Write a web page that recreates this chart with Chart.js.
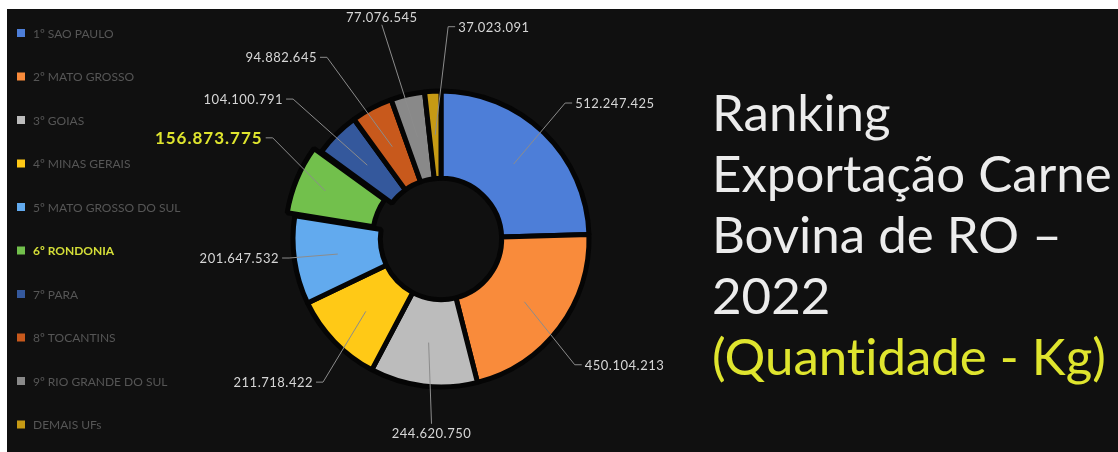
<!DOCTYPE html>
<html>
<head>
<meta charset="utf-8">
<script src="https://cdn.jsdelivr.net/npm/chart.js@4.4.0/dist/chart.umd.min.js"></script>
<style>
  html, body { margin:0; padding:0; background:#fff; }
  #wrap { position:relative; width:1118px; height:452px; overflow:hidden; }
  #panel { position:absolute; left:7px; top:9px; right:0; bottom:0; background:#101010; }
  #chart { position:absolute; left:0; top:0; }
  #title { position:absolute; left:712px; top:81px; font-family:Lato, sans-serif; font-size:51px;
           line-height:61px; color:#ececec; white-space:nowrap; font-variant-ligatures:none; }
  #title .unit { color:#dfe52e; }
</style>
</head>
<body>
<div id="wrap">
  <div id="panel"></div>
  <canvas id="chart" width="1118" height="452"></canvas>
  <div id="title">Ranking<br>Exportação Carne<br>Bovina de RO –<br>2022<br><span class="unit">(Quantidade - Kg)</span></div>
</div>
<script>
// ===== data =====
const states = ['1º SAO PAULO','2º MATO GROSSO','3º GOIAS','4º MINAS GERAIS','5º MATO GROSSO DO SUL',
                '6º RONDONIA','7º PARA','8º TOCANTINS','9º RIO GRANDE DO SUL','DEMAIS UFs'];
const kg = [512247425, 450104213, 244620750, 211718422, 201647532,
            156873775, 104100791, 94882645, 77076545, 37023091];
const sliceColors = ['#4d7ed8','#f98b3b','#bcbcbc','#ffc916','#62aaee',
                     '#72c04c','#34589c','#c8591c','#898989','#c69a14'];
const highlight = 5; // Rondonia

// label placement (angle shift from slice middle in deg, distance from centre, side)
const lblShift = [0.5, 4.2, -4.0, -4.3, 1.6, 7.0, -3.5, -6.5, -1.9, 7.8];
const lblDist  = [191, 191, 194, 192, 163, 205, 211, 220, 230, 213];
const lblSide  = ['left','left','below','right','right','right','right','right','above','left'];

const fmt = v => String(v).replace(/\B(?=(\d{3})+(?!\d))/g, '.');

const labelsPlugin = {
  id: 'leaderLabels',
  afterDatasetsDraw(chart) {
    const ctx = chart.ctx;
    const meta = chart.getDatasetMeta(0);
    const offs = chart.data.datasets[0].offset;
    ctx.save();
    meta.data.forEach((arc, i) => {
      const p = arc.getProps(['x','y','startAngle','endAngle','innerRadius','outerRadius']);
      const mid = (p.startAngle + p.endAngle) / 2;
      const rs = (p.innerRadius + p.outerRadius) / 2 + (offs[i] || 0);
      const sx = p.x + Math.cos(mid) * rs, sy = p.y + Math.sin(mid) * rs;
      const a = mid + lblShift[i] * Math.PI / 180;
      const tx = p.x + Math.cos(a) * lblDist[i], ty = p.y + Math.sin(a) * lblDist[i];
      const bold = i === highlight;
      ctx.font = bold ? 'bold 17px Lato' : '13px Lato';
      ctx.letterSpacing = bold ? '1px' : '0.5px';
      ctx.fillStyle = bold ? '#dfe52e' : '#d6d6d6';
      ctx.strokeStyle = '#8c8c8c';
      ctx.lineWidth = 1;
      ctx.textBaseline = 'middle';
      ctx.beginPath();
      ctx.moveTo(sx, sy);
      const side = lblSide[i];
      if (side === 'left') {
        ctx.lineTo(tx - 10, ty); ctx.lineTo(tx - 3, ty);
        ctx.textAlign = 'left';
      } else if (side === 'right') {
        ctx.lineTo(tx + 10, ty); ctx.lineTo(tx + 3, ty);
        ctx.textAlign = 'right';
      } else if (side === 'below') {
        ctx.lineTo(tx, ty - 9);
        ctx.textAlign = 'center';
      } else {
        ctx.lineTo(tx, ty + 8);
        ctx.textAlign = 'center';
      }
      ctx.stroke();
      ctx.fillText(fmt(kg[i]), tx, ty + 1);
    });
    ctx.restore();
  }
};

const legendPlugin = {
  id: 'sideLegend',
  afterDraw(chart) {
    const ctx = chart.ctx;
    ctx.save();
    ctx.filter = 'blur(0.6px)';
    ctx.textBaseline = 'middle';
    ctx.textAlign = 'left';
    states.forEach((s, i) => {
      const y = 33 + i * 43.5;
      ctx.fillStyle = sliceColors[i];
      ctx.fillRect(17, y - 4, 8, 8);
      const bold = i === highlight;
      ctx.font = bold ? 'bold 12px Lato' : '12px Lato';
      ctx.fillStyle = bold ? '#d4de38' : '#565656';
      ctx.fillText(s, 33, y + 1);
    });
    ctx.restore();
  }
};

const offsets = kg.map((v, i) => i === highlight ? 21 : 0);

new Chart(document.getElementById('chart'), {
  type: 'doughnut',
  data: {
    labels: states,
    datasets: [{
      data: kg,
      backgroundColor: sliceColors,
      borderColor: '#050505',
      borderWidth: 5,
      offset: offsets,
      hoverOffset: 0
    }]
  },
  options: {
    responsive: false,
    animation: false,
    radius: 148,
    cutout: '41%',
    layout: { padding: { left: 0, right: 236, top: 26, bottom: 0 } },
    plugins: { legend: { display: false }, tooltip: { enabled: false } }
  },
  plugins: [labelsPlugin, legendPlugin]
});
</script>
</body>
</html>
